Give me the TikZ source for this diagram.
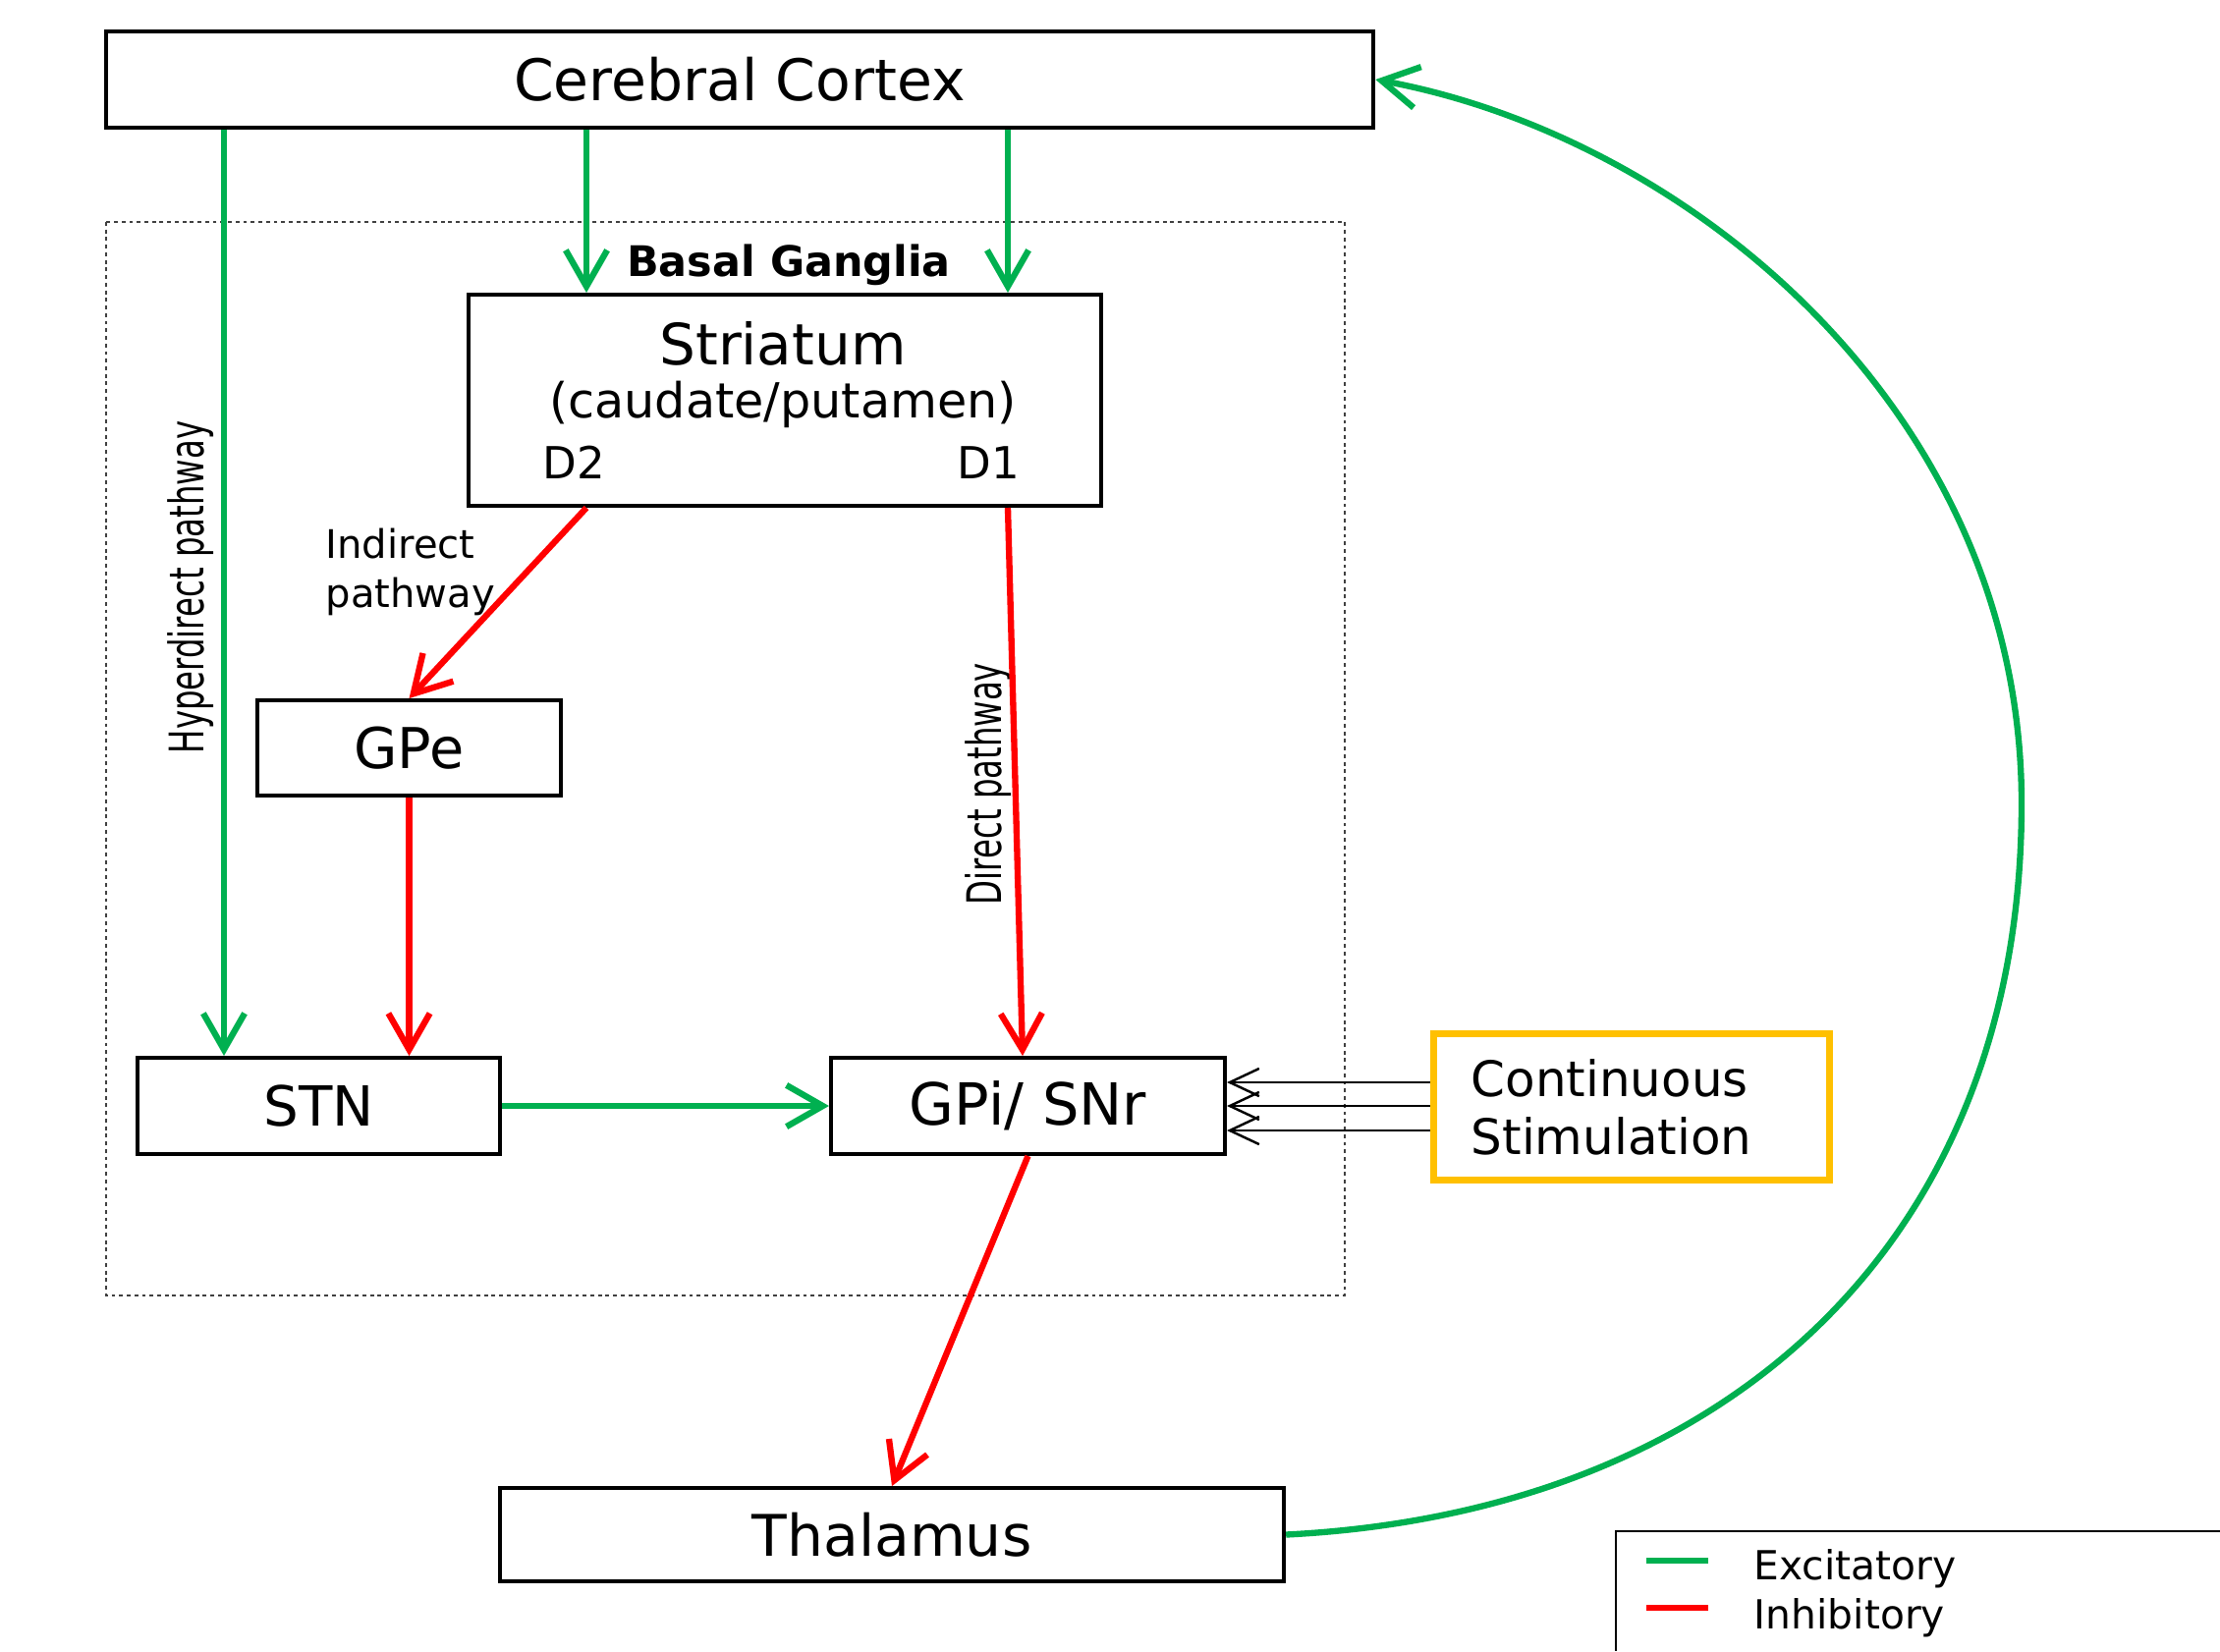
\documentclass[tikz,border=0pt]{standalone}
\usepackage{fontspec}
\usepackage{graphicx}
\setmainfont{DejaVu Sans}
\usetikzlibrary{arrows.meta,calc}
\definecolor{excc}{HTML}{00B050}
\definecolor{inhc}{HTML}{FF0000}
\definecolor{stimc}{HTML}{FFC000}
\newcommand{\fsz}[2]{\fontsize{#1pt}{#2pt}\selectfont}
\begin{document}
\begin{tikzpicture}[x=0.01cm,y=-0.01cm,
  box/.style={draw=black,line width=1.1pt,inner sep=0pt,fill=white},
  excarrow/.style={draw=excc,line width=1.8pt,-{Straight Barb[length=10.5pt,width=12pt]}},
  inharrow/.style={draw=inhc,line width=1.8pt,-{Straight Barb[length=10.5pt,width=12pt]}},
  stimarrow/.style={draw=black,line width=0.7pt,-{Straight Barb[length=8.5pt,width=8pt]}},
  bgbox/.style={draw=black!75,line width=0.6pt,dash pattern=on 1.1pt off 1.1pt},
  txt/.style={inner sep=0pt}
]
\useasboundingbox[fill=white] (0,0) rectangle (2260,1681);

% Basal ganglia region
\draw[bgbox] (108,226) rectangle (1369,1319);
\node[txt,font=\bfseries\fsz{12.2}{14}] (bglabel) at (803,270) {Basal Ganglia};

% boxes
\node[box,minimum width=12.90cm,minimum height=0.98cm,font=\fsz{16.6}{19}] (cortex) at (753,81) {Cerebral Cortex};
\node[box,minimum width=6.44cm,minimum height=2.15cm] (str) at (799,407.5) {};
\node[txt,font=\fsz{16.5}{19}] (strname) at (797,350) {Striatum};
\node[txt,font=\fsz{14}{17}] (strsub) at (797,412) {(caudate/putamen)};
\node[txt,font=\fsz{12.8}{15}] (d2) at (584,471) {D2};
\node[txt,font=\fsz{12.8}{15}] (d1) at (1006,471) {D1};
\node[box,minimum width=3.09cm,minimum height=0.97cm,font=\fsz{16.3}{19}] (gpe) at (416.5,761.5) {GPe};
\node[box,minimum width=3.69cm,minimum height=0.98cm,font=\fsz{16}{19}] (stn) at (324.5,1126) {STN};
\node[box,minimum width=4.01cm,minimum height=0.98cm,font=\fsz{16.8}{19}] (gpi) at (1046.5,1126) {GPi/ SNr};
\node[box,minimum width=7.98cm,minimum height=0.95cm,font=\fsz{16.6}{19}] (thal) at (908,1562.5) {Thalamus};
\node[draw=stimc,line width=2pt,inner sep=0pt,minimum width=4.03cm,minimum height=1.49cm] (stim) at (1661,1127) {};
\node[txt,anchor=west,align=left,font=\fsz{14.2}{16.8}] (stimtxt) at (1497,1127) {Continuous\\Stimulation};

% labels
\node[txt,anchor=west,align=left,font=\fsz{11.4}{14.2}] (indir) at (331,582) {Indirect\\pathway};
\node[txt,rotate=90] (hyper) at (194,598) {\scalebox{1}[1.5]{\fsz{9.2}{11}Hyperdirect pathway}};
\node[txt,rotate=90] (direct) at (1006,798) {\scalebox{1}[1.5]{\fsz{9.2}{11}Direct pathway}};

% helper positions
\coordinate (hx) at (228,0);
\coordinate (c1) at (597,0);
\coordinate (c2) at (1026,0);
\coordinate (d1end) at (1041,0);
\coordinate (s1) at (0,1102);
\coordinate (s2) at (0,1126);
\coordinate (s3) at (0,1151);
\coordinate (loopmid) at (2058,818);

% excitatory connectors
\draw[excarrow] (cortex.south -| hx) -- (stn.north -| hx);
\draw[excarrow] (cortex.south -| c1) -- (str.north -| c1);
\draw[excarrow] (cortex.south -| c2) -- (str.north -| c2);
\draw[excarrow] (stn.east) -- (gpi.west);
\draw[excarrow] (thal.east) .. controls (1758,1540) and (2058,1264) .. (loopmid)
  .. controls (2058,420) and (1720,140) .. (cortex.east);

% inhibitory connectors
\draw[inharrow] (str.south -| c1) -- (gpe.north);
\draw[inharrow] (str.south -| c2) -- (gpi.north -| d1end);
\draw[inharrow] (gpe.south) -- (stn.north -| gpe.south);
\draw[inharrow] (gpi.south) -- (thal.north);

% stimulation
\draw[stimarrow] (stim.west |- s1) -- (gpi.east |- s1);
\draw[stimarrow] (stim.west |- s2) -- (gpi.east |- s2);
\draw[stimarrow] (stim.west |- s3) -- (gpi.east |- s3);

% legend
\coordinate (lgtr) at (2260,1559);
\coordinate (lgbl) at (1645,1681);
\draw[line width=0.8pt] (lgtr) -| (lgbl);
\coordinate (le1a) at (1676,1589);
\coordinate (le1b) at (1739,1589);
\coordinate (le2a) at (1676,1637);
\coordinate (le2b) at (1739,1637);
\draw[excc,line width=1.7pt] (le1a) -- (le1b);
\draw[inhc,line width=1.7pt] (le2a) -- (le2b);
\node[txt,anchor=base west,font=\fsz{11.6}{14}] (lexc) at (1785,1608) {Excitatory};
\node[txt,anchor=base west,font=\fsz{11.6}{14}] (linh) at (1785,1658) {Inhibitory};
\end{tikzpicture}
\end{document}
